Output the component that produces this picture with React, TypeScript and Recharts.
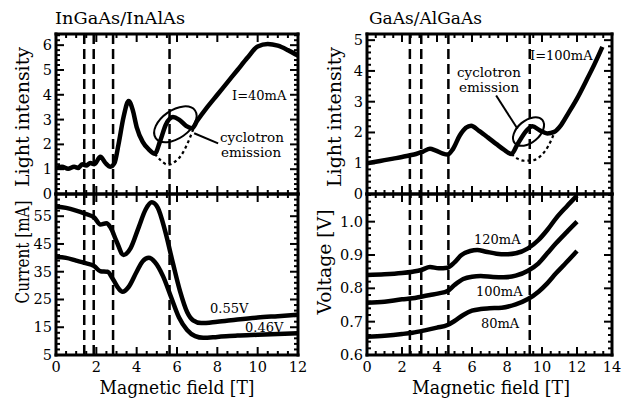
import React from "react";
import {
  LineChart,
  Line,
  XAxis,
  YAxis,
  ReferenceLine,
  ReferenceDot,
} from "recharts";

const W = 628;
const H = 403;
const FONT = '"DejaVu Serif", serif';

// InGaAs/InAlAs, light intensity at I=40mA
const inGaAsField = [0, 0.3, 0.6, 0.9, 1.1, 1.3, 1.5, 1.7, 1.9, 2.2, 2.45, 2.7, 2.9, 3.1, 3.35, 3.6, 3.8, 4.0, 4.3, 4.6, 4.9, 5.15, 5.45, 5.8, 6.1, 6.45, 6.75, 7.0, 7.5, 8.0, 8.5, 9.0, 9.5, 10.0, 10.5, 11.0, 11.5, 12.0];
const inGaAsLight = [1.05, 1.1, 1.02, 1.1, 1.05, 1.2, 1.15, 1.25, 1.2, 1.5, 1.25, 1.1, 1.25, 2.0, 3.1, 3.75, 3.4, 2.7, 2.1, 1.8, 1.62, 2.1, 2.8, 3.1, 3.0, 2.75, 2.65, 2.95, 3.5, 4.0, 4.5, 5.0, 5.5, 5.95, 6.05, 5.98, 5.8, 5.58];
// background without cyclotron emission (dotted)
const inGaAsBgField = [4.9, 5.2, 5.55, 5.9, 6.2, 6.5, 6.8];
const inGaAsBg = [1.62, 1.35, 1.18, 1.3, 1.55, 2.0, 2.6];

// InGaAs/InAlAs, current at fixed bias
const bias055Field = [0, 0.5, 1.0, 1.4, 1.9, 2.2, 2.5, 2.7, 3.0, 3.35, 3.7, 4.1, 4.45, 4.75, 5.05, 5.4, 5.8, 6.15, 6.5, 6.8, 7.2, 8, 9, 10, 11, 12];
const bias055Current = [58.5, 58, 57, 56, 54.5, 52, 52.5, 51, 46, 41, 43.5, 51, 57.5, 60, 58, 50, 38, 28, 20.5, 17.5, 16.5, 17, 17.8, 18.5, 19, 19.5];
const bias046Field = [0, 0.5, 1.0, 1.4, 1.9, 2.2, 2.55, 2.85, 3.1, 3.3, 3.6, 4.0, 4.3, 4.6, 4.9, 5.3, 5.7, 6.1, 6.5, 6.9, 7.3, 8, 9, 10, 11, 12];
const bias046Current = [40.3, 40, 39, 38.2, 37, 35.2, 35, 32, 29, 27.8, 29.5, 35, 38.8, 40, 38.5, 33.5, 26, 18.5, 14, 11.8, 11.2, 11.5, 12, 12.3, 12.6, 12.8];

// GaAs/AlGaAs, light intensity at I=100mA
const gaAsField = [0, 0.5, 1.0, 1.5, 2.0, 2.4, 2.8, 3.2, 3.6, 3.9, 4.3, 4.6, 4.9, 5.3, 5.65, 5.95, 6.4, 6.9, 7.4, 7.8, 8.25, 8.6, 9.1, 9.45, 9.9, 10.3, 10.7, 11.1, 11.5, 12.0, 12.5, 13.0, 13.45];
const gaAsLight = [1.0, 1.05, 1.1, 1.15, 1.2, 1.25, 1.3, 1.38, 1.47, 1.42, 1.32, 1.28, 1.45, 1.9, 2.15, 2.22, 2.05, 1.84, 1.62, 1.45, 1.3, 1.62, 2.05, 2.2, 2.06, 1.97, 2.02, 2.25, 2.62, 3.1, 3.65, 4.22, 4.78];
const gaAsBgField = [8.25, 8.6, 9.0, 9.5, 9.95, 10.35, 10.7];
const gaAsBg = [1.3, 1.15, 1.08, 1.1, 1.25, 1.55, 1.98];

// GaAs/AlGaAs, voltage at fixed current
const i120Field = [0, 1, 2, 2.6, 3.1, 3.6, 4.1, 4.6, 5.0, 5.4, 5.9, 6.3, 6.8, 7.4, 7.9, 8.5, 9.2, 9.8, 10.3, 10.8, 11.4, 12];
const i120Voltage = [0.84, 0.842, 0.846, 0.85, 0.855, 0.864, 0.86, 0.862, 0.878, 0.9, 0.912, 0.915, 0.91, 0.904, 0.902, 0.905, 0.92, 0.945, 0.975, 1.01, 1.045, 1.078];
const i100Field = [0, 1, 2, 2.6, 3.1, 3.6, 4.1, 4.6, 5.0, 5.5, 6.0, 6.5, 7.2, 7.8, 8.5, 9.2, 9.8, 10.3, 10.8, 11.4, 12];
const i100Voltage = [0.757, 0.76, 0.767, 0.77, 0.775, 0.78, 0.785, 0.792, 0.81, 0.828, 0.835, 0.837, 0.834, 0.833, 0.838, 0.853, 0.875, 0.905, 0.935, 0.968, 1.0];
const i80Field = [0, 1, 2, 2.6, 3.3, 4.0, 4.6, 5.0, 5.5, 6.0, 6.5, 7.0, 7.7, 8.5, 9.2, 9.8, 10.3, 10.8, 11.4, 12];
const i80Voltage = [0.655, 0.658, 0.663, 0.667, 0.674, 0.682, 0.69, 0.702, 0.72, 0.733, 0.738, 0.74, 0.742, 0.752, 0.768, 0.79, 0.815, 0.845, 0.878, 0.912];

// dashed markers
const inGaAsMarkers = [1.4, 1.87, 2.83, 5.63];
const gaAsMarkers = [2.45, 3.1, 4.65, 9.3];

// ticks
const leftFieldLabels = [0, 2, 4, 6, 8, 10, 12];
const rightFieldLabels = [0, 2, 4, 6, 8, 10, 12, 14];
const inGaAsLightLabels = [0, 1, 2, 3, 4, 5, 6];
const currentLabels = [5, 15, 25, 35, 45, 55];
const gaAsLightLabels = [0, 1, 2, 3, 4, 5];
const voltageLabels = [0.6, 0.7, 0.8, 0.9, 1.0];

const steps = (a: number, b: number, s: number) => {
  const out: number[] = [];
  for (let i = 0; a + i * s <= b + 1e-9; i++) out.push(+(a + i * s).toFixed(4));
  return out;
};

const pts = (xs: number[], ys: number[]) => xs.map((x, i) => ({ x, y: ys[i] }));
const isIn = (v: number, list: number[]) => list.some((m) => Math.abs(m - v) < 1e-6);

type Side = "bottom" | "top" | "left" | "right";

function makeTick(side: Side, major: number[], labels: boolean, fmt: (v: number) => string) {
  return (p: any) => {
    const v = p.payload.value;
    const big = isIn(v, major);
    const len = big ? 8 : 4;
    const { x, y } = p;
    let line;
    if (side === "bottom") line = <line x1={x} x2={x} y1={y} y2={y - len} />;
    else if (side === "top") line = <line x1={x} x2={x} y1={y} y2={y + len} />;
    else if (side === "left") line = <line x1={x} x2={x + len} y1={y} y2={y} />;
    else line = <line x1={x} x2={x - len} y1={y} y2={y} />;
    return (
      <g stroke="#000" strokeWidth={2}>
        {line}
        {labels && big && side === "bottom" && (
          <text x={x} y={y + 17} textAnchor="middle" stroke="none" fill="#000" fontFamily={FONT} fontSize={14.5}>
            {fmt(v)}
          </text>
        )}
        {labels && big && side === "left" && (
          <text x={x - 4} y={y + 5} textAnchor="end" stroke="none" fill="#000" fontFamily={FONT} fontSize={14.5}>
            {fmt(v)}
          </text>
        )}
      </g>
    );
  };
}

type Series = { data: { x: number; y: number }[]; dotted?: boolean };

type PanelProps = {
  box: { left: number; right: number; top: number; bottom: number };
  xDomain: [number, number];
  yDomain: [number, number];
  xMajor: number[];
  xTicks: number[];
  yMajor: number[];
  yTicks: number[];
  xLabels: boolean;
  yFmt?: (v: number) => string;
  series: Series[];
  markers: number[];
  children?: React.ReactNode;
};

function Panel({ box, xDomain, yDomain, xMajor, xTicks, yMajor, yTicks, xLabels, yFmt, series, markers, children }: PanelProps) {
  const fmtY = yFmt || ((v: number) => String(v));
  const frame = { stroke: "#000", strokeWidth: 3, strokeLinecap: "square" as const };
  // axes are 1px thick bands, so the margins are 1px smaller than the frame box
  return (
    <div style={{ position: "absolute", left: 0, top: 0 }}>
      <LineChart
        width={W}
        height={H}
        margin={{ top: box.top - 1, left: box.left - 1, right: W - box.right - 1, bottom: H - box.bottom - 1 }}
      >
        <XAxis xAxisId="b" type="number" dataKey="x" domain={xDomain} ticks={xTicks} interval={0} height={1}
          allowDataOverflow axisLine={frame} tickLine={false} tickSize={0} tickMargin={0}
          tick={makeTick("bottom", xMajor, xLabels, String)} />
        <XAxis xAxisId="t" orientation="top" type="number" dataKey="x" domain={xDomain} ticks={xTicks} interval={0} height={1}
          allowDataOverflow axisLine={frame} tickLine={false} tickSize={0} tickMargin={0}
          tick={makeTick("top", xMajor, false, String)} />
        <YAxis yAxisId="l" type="number" domain={yDomain} ticks={yTicks} interval={0} width={1}
          allowDataOverflow axisLine={frame} tickLine={false} tickSize={0} tickMargin={0}
          tick={makeTick("left", yMajor, true, fmtY)} />
        <YAxis yAxisId="r" orientation="right" type="number" domain={yDomain} ticks={yTicks} interval={0} width={1}
          allowDataOverflow axisLine={frame} tickLine={false} tickSize={0} tickMargin={0}
          tick={makeTick("right", yMajor, false, fmtY)} />
        {markers.map((m) => (
          <ReferenceLine key={m} x={m} xAxisId="b" yAxisId="l" stroke="#000" strokeWidth={2.5} strokeDasharray="10 5" />
        ))}
        {series.map((s, i) => (
          <Line
            key={i}
            data={s.data}
            dataKey="y"
            xAxisId="b"
            yAxisId="l"
            type="monotone"
            stroke="#000"
            strokeWidth={s.dotted ? 2.2 : 4.5}
            strokeDasharray={s.dotted ? "3 3" : undefined}
            dot={false}
            isAnimationActive={false}
          />
        ))}
        {children}
      </LineChart>
    </div>
  );
}

const ring = (rx: number, ry: number, angle: number) => (p: any) => (
  <ellipse cx={p.cx} cy={p.cy} rx={rx} ry={ry} transform={`rotate(${angle} ${p.cx} ${p.cy})`}
    fill="none" stroke="#000" strokeWidth={2} />
);

const leftX = { left: 56, right: 298 };
const rightX = { left: 367, right: 612 };

export default function App() {
  const t = { fontFamily: FONT, fill: "#000" };
  const fit = { lengthAdjust: "spacingAndGlyphs" as const };
  return (
    <div style={{ position: "absolute", left: 0, top: 0, width: W, height: H, background: "#fff" }}>
      <Panel
        box={{ ...leftX, top: 34, bottom: 194 }}
        xDomain={[0, 12]} yDomain={[0, 6.45]}
        xMajor={leftFieldLabels} xTicks={steps(0, 12, 0.5)}
        yMajor={inGaAsLightLabels} yTicks={steps(0, 6.4, 0.2)}
        xLabels={false}
        series={[{ data: pts(inGaAsField, inGaAsLight) }, { data: pts(inGaAsBgField, inGaAsBg), dotted: true }]}
        markers={inGaAsMarkers}
      >
        <ReferenceDot xAxisId="b" yAxisId="l" x={5.92} y={2.81} r={0} shape={ring(24, 14, -35)} />
        <ReferenceLine xAxisId="b" yAxisId="l" segment={[{ x: 6.85, y: 2.45 }, { x: 8.04, y: 2.04 }]} stroke="#000" strokeWidth={2} />
      </Panel>
      <Panel
        box={{ ...leftX, top: 194, bottom: 355 }}
        xDomain={[0, 12]} yDomain={[5, 63]}
        xMajor={leftFieldLabels} xTicks={steps(0, 12, 0.5)}
        yMajor={currentLabels} yTicks={steps(5, 61, 2)}
        xLabels={true}
        series={[{ data: pts(bias055Field, bias055Current) }, { data: pts(bias046Field, bias046Current) }]}
        markers={inGaAsMarkers}
      />
      <Panel
        box={{ ...rightX, top: 34, bottom: 194 }}
        xDomain={[0, 14]} yDomain={[0, 5.2]}
        xMajor={rightFieldLabels} xTicks={steps(0, 14, 0.5)}
        yMajor={gaAsLightLabels} yTicks={steps(0, 5, 0.2)}
        xLabels={false}
        series={[{ data: pts(gaAsField, gaAsLight) }, { data: pts(gaAsBgField, gaAsBg), dotted: true }]}
        markers={gaAsMarkers}
      >
        <ReferenceDot xAxisId="b" yAxisId="l" x={9.23} y={2.03} r={0} shape={ring(18, 11, -40)} />
        <ReferenceLine xAxisId="b" yAxisId="l" segment={[{ x: 7.38, y: 3.2 }, { x: 8.6, y: 2.12 }]} stroke="#000" strokeWidth={2} />
      </Panel>
      <Panel
        box={{ ...rightX, top: 194, bottom: 355 }}
        xDomain={[0, 14]} yDomain={[0.6, 1.083]}
        xMajor={rightFieldLabels} xTicks={steps(0, 14, 0.5)}
        yMajor={voltageLabels} yTicks={steps(0.6, 1.08, 0.02)}
        xLabels={true}
        yFmt={(v) => v.toFixed(1)}
        series={[
          { data: pts(i120Field, i120Voltage) },
          { data: pts(i100Field, i100Voltage) },
          { data: pts(i80Field, i80Voltage) },
        ]}
        markers={gaAsMarkers}
      />
      <svg width={W} height={H} style={{ position: "absolute", left: 0, top: 0, pointerEvents: "none" }}>
        <text x={55} y={24} fontSize={16.5} textLength={130} {...fit} {...t}>InGaAs/InAlAs</text>
        <text x={369} y={24} fontSize={16.5} textLength={113} {...fit} {...t}>GaAs/AlGaAs</text>

        <text x={232} y={100} fontSize={13} {...t}>I=40mA</text>
        <text x={220} y={142} fontSize={13.5} {...t}>cyclotron</text>
        <text x={221} y={157} fontSize={13.5} {...t}>emission</text>
        <text x={210} y={313} fontSize={13} {...t}>0.55V</text>
        <text x={245} y={332} fontSize={13} {...t}>0.46V</text>

        <text x={530} y={60} fontSize={13} {...t}>I=100mA</text>
        <text x={457} y={77} fontSize={13.5} {...t}>cyclotron</text>
        <text x={459} y={92} fontSize={13.5} {...t}>emission</text>
        <text x={474} y={244} fontSize={13} {...t}>120mA</text>
        <text x={476} y={296} fontSize={13} {...t}>100mA</text>
        <text x={481} y={328} fontSize={13} {...t}>80mA</text>

        <text x={29} y={117} fontSize={19} textAnchor="middle" textLength={140} {...fit} transform="rotate(-90 29 117)" {...t}>Light intensity</text>
        <text x={29} y={252} fontSize={19} textAnchor="middle" textLength={103} {...fit} transform="rotate(-90 29 252)" {...t}>Current [mA]</text>
        <text x={341} y={117} fontSize={19} textAnchor="middle" textLength={140} {...fit} transform="rotate(-90 341 117)" {...t}>Light intensity</text>
        <text x={331} y={262} fontSize={19} textAnchor="middle" textLength={105} {...fit} transform="rotate(-90 331 262)" {...t}>Voltage [V]</text>

        <text x={177} y={394} fontSize={18} textAnchor="middle" textLength={155} {...fit} {...t}>Magnetic field [T]</text>
        <text x={491} y={394} fontSize={18} textAnchor="middle" textLength={158} {...fit} {...t}>Magnetic field [T]</text>
      </svg>
    </div>
  );
}
